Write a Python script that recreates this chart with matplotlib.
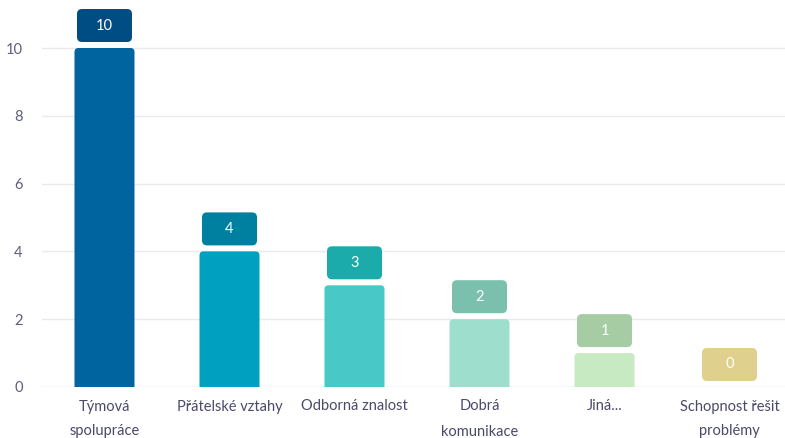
import matplotlib
matplotlib.use("Agg")
import matplotlib.pyplot as plt
from matplotlib.patches import FancyBboxPatch

plt.rcParams['font.family'] = ['Lato', 'DejaVu Sans']

categories = ["Týmová\nspolupráce", "Přátelské vztahy", "Odborná znalost",
              "Dobrá\nkomunikace", "Jiná...", "Schopnost řešit\nproblémy"]
values = [10, 4, 3, 2, 1, 0]
bar_colors = ["#00649e", "#00a0c0", "#48c9c8", "#9ddfcc", "#c7eac3", "#e8dca0"]
badge_colors = ["#004d84", "#0080a0", "#1aabaa", "#7bc0ad", "#a6cca4", "#e0d08e"]
yticks = [0, 2, 4, 6, 8, 10]

W, H = 785, 438
fig = plt.figure(figsize=(W / 100, H / 100), dpi=100)
ax_left, ax_right, ax_bottom, ax_top = 42, 785, 387, 7
ax = fig.add_axes([ax_left / W, (H - ax_bottom) / H,
                   (ax_right - ax_left) / W, (ax_bottom - ax_top) / H])

px_per_x = 125.0
px_per_y = 33.9
xlim = (-0.5, -0.5 + (ax_right - ax_left) / px_per_x)
ylim = (0, (ax_bottom - ax_top) / px_per_y)
ax.set_xlim(*xlim)
ax.set_ylim(*ylim)
aspect = px_per_x / px_per_y  # data-y per data-x at equal pixel length

# grid
for t in yticks:
    ax.axhline(t, color="#d9dce8" if t == 0 else "#e9e9ee", lw=1.0, zorder=0)

bar_w = 60 / px_per_x
r_px = 4
for i, (v, c) in enumerate(zip(values, bar_colors)):
    if v > 0:
        ext = 0.3
        p = FancyBboxPatch((i - bar_w / 2, -ext), bar_w, v + ext,
                           boxstyle=f"round,pad=0,rounding_size={r_px / px_per_x}",
                           mutation_aspect=aspect, fc=c, ec="none", zorder=2)
        ax.add_patch(p)

# value badges above the bars
bw, bh, gap = 55 / px_per_x, 33 / px_per_y, 6 / px_per_y
for i, (v, c) in enumerate(zip(values, badge_colors)):
    y0 = v + gap
    p = FancyBboxPatch((i - bw / 2, y0), bw, bh,
                       boxstyle=f"round,pad=0,rounding_size={5 / px_per_x}",
                       mutation_aspect=aspect, fc=c, ec="none", zorder=3,
                       clip_on=False)
    ax.add_patch(p)
    ax.text(i, y0 + bh / 2, str(v), ha="center", va="center", color="white",
            fontsize=10.5, zorder=4, clip_on=False)

ax.set_yticks(yticks)
ax.set_yticklabels([str(t) for t in yticks], color="#5e5e7c", fontsize=10.5)
ax.tick_params(axis="y", length=0, pad=14)
ax.set_xticks(range(len(categories)))
ax.set_xticklabels(categories, color="#4a4a6a", fontsize=10.5, linespacing=2.0,
                   va="top")
ax.tick_params(axis="x", length=0, pad=9)
for s in ax.spines.values():
    s.set_visible(False)

fig.savefig("out.png", dpi=100)
